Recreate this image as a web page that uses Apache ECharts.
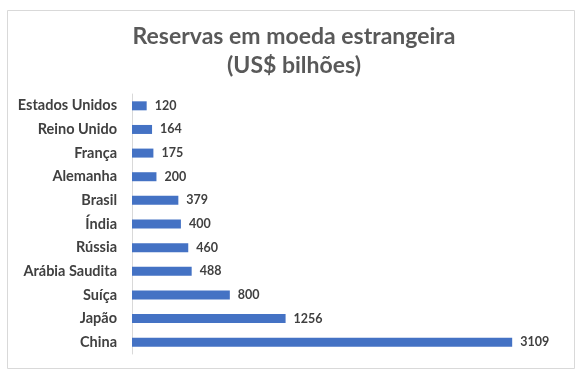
<!DOCTYPE html>
<html><head><meta charset="utf-8">
<script src="https://cdn.jsdelivr.net/npm/echarts@6/dist/echarts.min.js"></script>
<style>html,body{margin:0;padding:0;background:#fff}#c{width:588px;height:379px}</style>
</head><body><div id="c"></div>
<script>
const categories = ['China','Japão','Suíça','Arábia Saudita','Rússia','Índia','Brasil','Alemanha','França','Reino Unido','Estados Unidos'];
const values = [3109,1256,800,488,460,400,379,200,175,164,120];
const titleText = 'Reservas em moeda estrangeira\n(US$ bilhões)';

const chart = echarts.init(document.getElementById('c'), null, {renderer:'canvas'});
chart.setOption({
  animation:false,
  backgroundColor:'#fff',
  graphic:[{type:'rect',shape:{x:7.5,y:10.5,width:567,height:358},style:{fill:'none',stroke:'#d9d9d9',lineWidth:1},silent:true}],
  title:{text:titleText,left:'center',top:17,textStyle:{fontFamily:'Lato',fontWeight:'bold',fontSize:23,color:'#595959',lineHeight:29}},
  grid:{left:132,right:28,top:94,bottom:25,containLabel:false},
  xAxis:{type:'value',min:0,max:3500,show:false},
  yAxis:{type:'category',data:categories,
    axisLine:{show:true,lineStyle:{color:'#d9d9d9'}},axisTick:{show:false},
    axisLabel:{margin:15,fontFamily:'Lato',fontWeight:'bold',fontSize:14.5,color:'#404040'}},
  series:[{type:'bar',data:values,barWidth:9,itemStyle:{color:'#4472c4'},
    label:{show:true,position:'right',distance:8,fontFamily:'Lato',fontWeight:'bold',fontSize:12.5,color:'#404040'}}]
});
</script></body></html>
